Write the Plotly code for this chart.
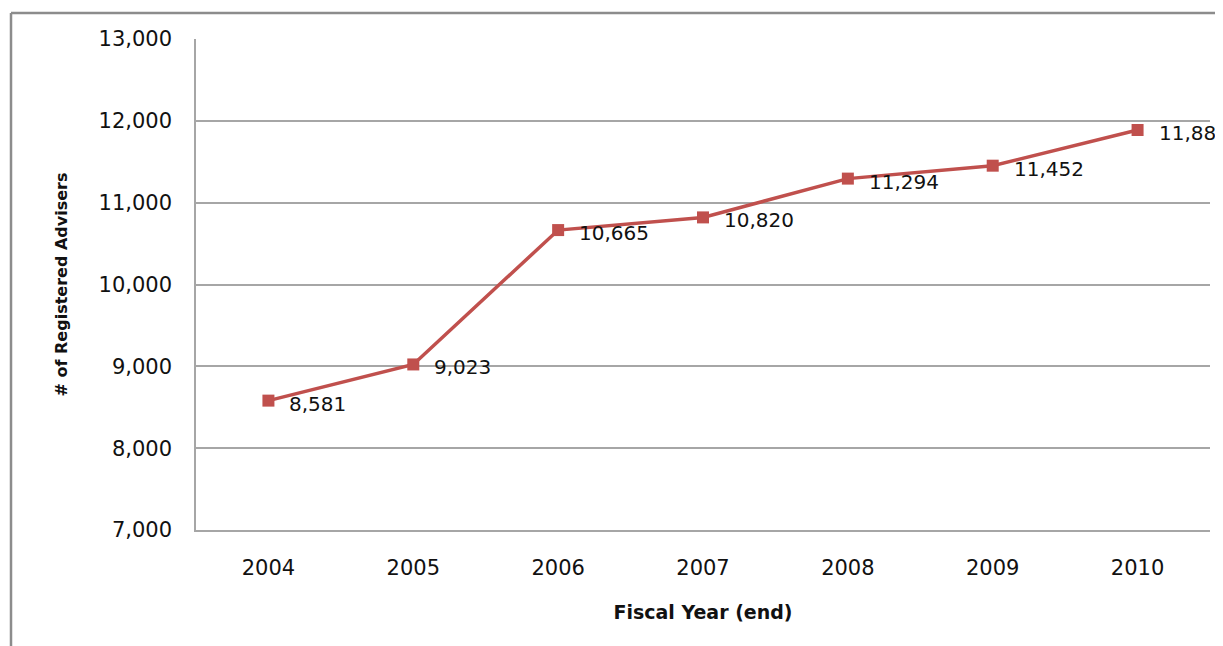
import plotly.graph_objects as go

years = ["2004", "2005", "2006", "2007", "2008", "2009", "2010"]
advisers = [8581, 9023, 10665, 10820, 11294, 11452, 11888]
y_ticks = [7000, 8000, 9000, 10000, 11000, 12000, 13000]

OFF = 8  # page body margin
W, H = 1223 - OFF, 646 - OFF
ML, MR, MT, MB = 196 - OFF, 13, 39 - OFF, 116
PW, PH = W - ML - MR, H - MT - MB

RED = "#C0504D"
GRID = "#A6A6A6"
FONT = "DejaVu Sans"
TXT = "#111111"

fig = go.Figure()
fig.add_trace(go.Scatter(
    x=years, y=advisers, mode="lines+markers",
    line=dict(color=RED, width=3.5),
    marker=dict(symbol="square", size=12, color=RED),
    hoverinfo="skip", showlegend=False,
))

for i, v in enumerate(advisers):
    fig.add_annotation(
        x=i, y=v, xref="x", yref="y", text=f"{v:,}", showarrow=False,
        xanchor="left", yanchor="middle", xshift=19, yshift=-3,
        font=dict(family=FONT, size=20, color=TXT),
    )

# outer chart border (left and top)
px = lambda p: (p - OFF - ML) / PW
py = lambda p: 1 - (p - OFF - MT) / PH
fig.add_shape(type="line", xref="paper", yref="paper",
              x0=px(11), x1=px(11), y0=py(13), y1=py(660),
              line=dict(color="#8C8C8C", width=2.5))
fig.add_shape(type="line", xref="paper", yref="paper",
              x0=px(11), x1=px(1240), y0=py(13), y1=py(13),
              line=dict(color="#8C8C8C", width=2.5))

fig.update_layout(
    width=W, height=H,
    margin=dict(l=ML, r=MR, t=MT, b=MB),
    paper_bgcolor="white", plot_bgcolor="white",
    font=dict(family=FONT, size=20, color=TXT),
    xaxis=dict(
        type="category", range=[-0.5, 6.5],
        showgrid=False, showline=True, linecolor=GRID, linewidth=1.5,
        ticks="", ticklabelstandoff=18,
        tickfont=dict(family=FONT, size=21),
        title=dict(text="<b>Fiscal Year (end)</b>", standoff=27,
                   font=dict(family=FONT, size=19)),
    ),
    yaxis=dict(
        range=[7000, 13000], tickvals=y_ticks,
        tickformat=",d", showgrid=True, gridcolor=GRID, gridwidth=1.5,
        showline=True, linecolor=GRID, linewidth=1.5, zeroline=False,
        ticks="", ticklabelstandoff=18,
        tickfont=dict(family=FONT, size=21),
        title=dict(text="<b># of Registered Advisers</b>", standoff=27,
                   font=dict(family=FONT, size=16)),
    ),
)

fig.write_html("out.html")
